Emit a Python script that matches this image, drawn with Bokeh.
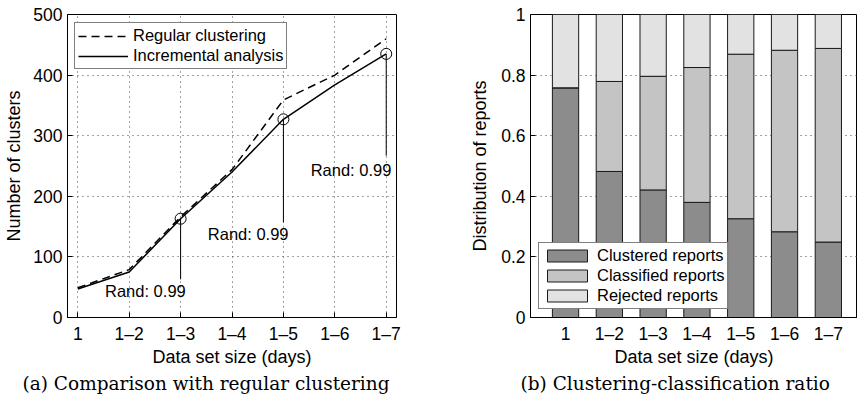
from bokeh.plotting import figure
from bokeh.models import (FixedTicker, Legend, LegendItem, Title, ColumnDataSource)
from bokeh.layouts import row
from bokeh.embed import file_html
from bokeh.resources import INLINE
from bokeh.core.properties import value

# ---------------- data ----------------
days = ["1", "1\u20132", "1\u20133", "1\u20134", "1\u20135", "1\u20136", "1\u20137"]
regular = [49, 79, 166, 244, 359, 400, 460]
incremental = [47, 75, 163, 240, 327, 384, 435]

rand_idx = [2, 4, 6]            # points annotated with Rand index
rand_text = ["Rand: 0.99", "Rand: 0.99", "Rand: 0.99"]
rand_line_end = [63, 157, 267]  # where the annotation leader ends
rand_text_y = [43, 137, 243]

clustered = [0.758, 0.482, 0.421, 0.380, 0.326, 0.283, 0.249]
classified = [0.000, 0.297, 0.375, 0.445, 0.543, 0.599, 0.639]
rejected = [0.242, 0.221, 0.204, 0.175, 0.131, 0.118, 0.112]

y_ticks_a = [0, 100, 200, 300, 400, 500]
y_ticks_b = [0, 0.2, 0.4, 0.6, 0.8, 1]
y_labels_b = ["0", "0.2", "0.4", "0.6", "0.8", "1"]

SANS = "Liberation Sans"
SERIF = "DejaVu Serif"
TICK_FS = "17.5px"
LABEL_FS = "18px"
LEG_FS = "16.5px"
CAP_FS = "18.5px"

xs = list(range(1, len(days) + 1))
overrides = {i + 1: d for i, d in enumerate(days)}


def style_axes(p):
    for ax in (p.xaxis[0], p.yaxis[0]):
        ax.axis_line_color = "black"
        ax.major_tick_line_color = "black"
        ax.major_tick_in = 5
        ax.major_tick_out = 0
        ax.minor_tick_line_color = None
        ax.major_label_text_font = SANS
        ax.major_label_text_font_size = TICK_FS
        ax.major_label_text_color = "black"
        ax.axis_label_text_font = SANS
        ax.axis_label_text_font_size = LABEL_FS
        ax.axis_label_text_font_style = "normal"
        ax.axis_label_text_color = "black"
    p.xaxis.major_label_standoff = 6
    p.xaxis.axis_label_standoff = 0
    p.yaxis.major_label_standoff = 5
    p.outline_line_color = "black"
    p.outline_line_alpha = 1
    p.outline_line_width = 1


def style_legend(leg):
    leg.label_text_font = SANS
    leg.label_text_font_size = LEG_FS
    leg.label_text_color = "black"
    leg.glyph_width = 50
    leg.label_standoff = 5
    leg.margin = 0
    leg.border_line_color = "black"
    leg.border_line_width = 1
    leg.background_fill_alpha = 1


# ---------------- (a) line chart ----------------
pa = figure(width=460, height=400, x_range=(0.8, 7.2), y_range=(0, 500),
            output_backend="svg", toolbar_location=None,
            min_border_left=67, min_border_right=64,
            min_border_top=14, min_border_bottom=83)
pa.background_fill_color = "white"
pa.border_fill_color = "white"
style_axes(pa)
pa.yaxis.axis_label_standoff = 6
pa.xaxis.ticker = FixedTicker(ticks=xs)
pa.xaxis.major_label_overrides = overrides
pa.yaxis.ticker = FixedTicker(ticks=y_ticks_a)
pa.xaxis.axis_label = "Data set size (days)"
pa.yaxis.axis_label = "Number of clusters"
for g in (pa.xgrid[0], pa.ygrid[0]):
    g.grid_line_color = "#444444"
    g.grid_line_dash = "1 4"
    g.grid_line_width = 1

r_reg = pa.line(xs, regular, line_color="black", line_width=1.5, line_dash="8 5")
r_inc = pa.line(xs, incremental, line_color="black", line_width=1.5)

cx = [xs[i] for i in rand_idx]
cy = [incremental[i] for i in rand_idx]
pa.scatter(cx, cy, marker="circle", size=11, fill_color=None,
           line_color="black", line_width=1)
pa.segment(x0=cx, y0=cy, x1=cx, y1=rand_line_end, line_color="black", line_width=1)
pa.text(x=[c + 0.1 for c in cx], y=rand_text_y, text=rand_text,
        text_font=value(SANS), text_font_size="16.5px", text_align="right",
        text_baseline="middle", text_color="black")

leg_a = Legend(items=[LegendItem(label="Regular clustering", renderers=[r_reg]),
                      LegendItem(label="Incremental analysis", renderers=[r_inc])],
               location=(7, 248))
style_legend(leg_a)
leg_a.glyph_height = 18
leg_a.label_height = 18
leg_a.spacing = 1
leg_a.padding = 3
pa.add_layout(leg_a)

cap_a = Title(text="(a)  Comparison with regular clustering", align="left",
              text_font=SERIF, text_font_size=CAP_FS, text_font_style="normal",
              text_color="black", offset=-45, standoff=2)
pa.add_layout(cap_a, "below")

# ---------------- (b) stacked bar chart ----------------
pb = figure(width=397, height=400, x_range=(0.2, 7.666), y_range=(0, 1),
            output_backend="svg", toolbar_location=None,
            min_border_left=70, min_border_right=0,
            min_border_top=14, min_border_bottom=83)
pb.background_fill_color = "white"
pb.border_fill_color = "white"
style_axes(pb)
pb.yaxis.axis_label_standoff = 8
pb.xaxis.ticker = FixedTicker(ticks=xs)
pb.xaxis.major_label_overrides = overrides
pb.xaxis.major_tick_in = 0
pb.yaxis.ticker = FixedTicker(ticks=y_ticks_b)
pb.yaxis.major_label_overrides = {t: l for t, l in zip(y_ticks_b, y_labels_b)}
pb.xaxis.axis_label = "Data set size (days)"
pb.yaxis.axis_label = "Distribution of reports"
pb.xgrid.grid_line_color = None
pb.ygrid.grid_line_color = "#444444"
pb.ygrid.grid_line_dash = "1 4"
pb.ygrid.grid_line_width = 1

src = ColumnDataSource(dict(x=xs, clustered=clustered,
                            classified=classified, rejected=rejected))
bars = pb.vbar_stack(["clustered", "classified", "rejected"], x="x", width=0.6,
                     source=src,
                     fill_color=["#8c8c8c", "#c4c4c4", "#e2e2e2"],
                     line_color="#1a1a1a", line_width=1)

leg_b = Legend(items=[LegendItem(label="Clustered reports", renderers=[bars[0]]),
                      LegendItem(label="Classified reports", renderers=[bars[1]]),
                      LegendItem(label="Rejected reports", renderers=[bars[2]])],
               location=(8, 8))
style_legend(leg_b)
leg_b.glyph_height = 15
leg_b.label_height = 18
leg_b.spacing = 1
leg_b.padding = 3
pb.add_layout(leg_b)

cap_b = Title(text="(b)  Clustering-classification ratio", align="left",
              text_font=SERIF, text_font_size=CAP_FS, text_font_style="normal",
              text_color="black", offset=-10, standoff=2)
pb.add_layout(cap_b, "below")

layout = row(pa, pb)
open("out.html", "w").write(file_html(layout, INLINE))
